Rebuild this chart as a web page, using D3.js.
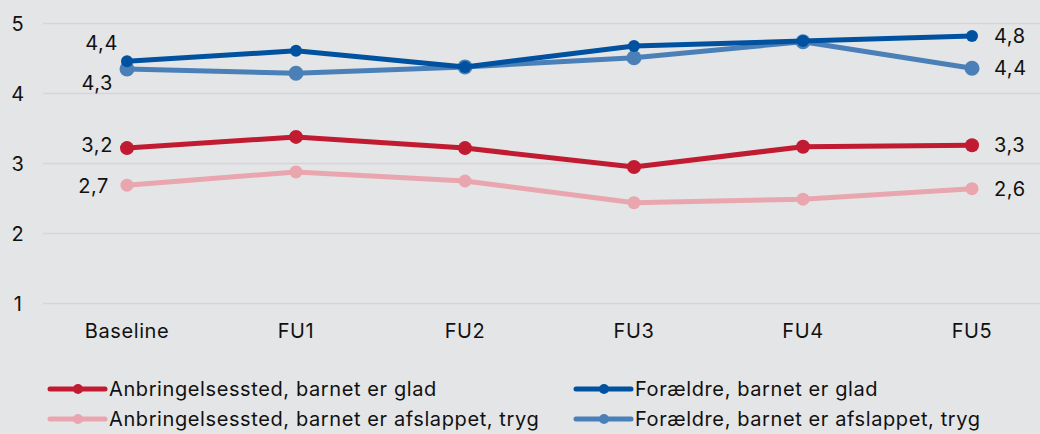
<!DOCTYPE html>
<html>
<head>
<meta charset="utf-8">
<script src="https://cdn.jsdelivr.net/npm/d3@7"></script>
<style>
  body { margin: 0; background: #e4e5e7; }
  svg { display: block; font-family: Inter, "Noto Sans", sans-serif; letter-spacing: 0.6px; }
</style>
</head>
<body>
<svg id="chart"></svg>
<script>
// categories + series
const periods = ['Baseline', 'FU1', 'FU2', 'FU3', 'FU4', 'FU5'];
const yTicks = [1, 2, 3, 4, 5];

const anbGlad = [3.22, 3.38, 3.22, 2.95, 3.24, 3.26];
const anbTryg = [2.69, 2.88, 2.75, 2.44, 2.49, 2.64];
const forGlad = [4.46, 4.61, 4.38, 4.68, 4.75, 4.82];
const forTryg = [4.35, 4.29, 4.38, 4.51, 4.74, 4.36];

const seriesNames = [
  'Anbringelsessted, barnet er glad',
  'Anbringelsessted, barnet er afslappet, tryg',
  'Forældre, barnet er glad',
  'Forældre, barnet er afslappet, tryg'
];

const startLabels = ['3,2', '2,7', '4,4', '4,3'];
const endLabels = ['3,3', '2,6', '4,8', '4,4'];

const series = [
  { name: seriesNames[0], values: anbGlad, color: '#c11b32', r: 7, start: startLabels[0], end: endLabels[0], dxStart: -14, dyStart: -3 },
  { name: seriesNames[1], values: anbTryg, color: '#e9a6ae', r: 6.5, start: startLabels[1], end: endLabels[1], dxStart: -18, dyStart: 1 },
  { name: seriesNames[2], values: forGlad, color: '#0051a0', r: 6, start: startLabels[2], end: endLabels[2], dxStart: -9, dyStart: -18 },
  { name: seriesNames[3], values: forTryg, color: '#4a80b7', r: 7.5, start: startLabels[3], end: endLabels[3], dxStart: -14, dyStart: 14 }
];

const width = 1040, height = 434;
const margin = { top: 23.5, right: 0, bottom: 130.5, left: 43 };
const fs = 20;

const svg = d3.select('#chart').attr('width', width).attr('height', height);

const x = d3.scalePoint()
  .domain(periods)
  .range([127, 972]);

const y = d3.scaleLinear()
  .domain([1, 5])
  .range([height - margin.bottom, margin.top]);

// gridlines
svg.append('g')
  .selectAll('line')
  .data(yTicks)
  .join('line')
  .attr('x1', margin.left)
  .attr('x2', width)
  .attr('y1', d => y(d))
  .attr('y2', d => y(d))
  .attr('stroke', '#d5d6d7')
  .attr('stroke-width', 1.5);

// y labels
svg.append('g')
  .selectAll('text')
  .data(yTicks)
  .join('text')
  .attr('x', 18)
  .attr('y', d => y(d))
  .attr('dy', '0.35em')
  .attr('text-anchor', 'middle')
  .attr('font-size', fs)
  .attr('fill', '#111')
  .text(d => d);

// x labels
svg.append('g')
  .selectAll('text')
  .data(periods)
  .join('text')
  .attr('x', d => x(d))
  .attr('y', 331)
  .attr('dy', '0.35em')
  .attr('text-anchor', 'middle')
  .attr('font-size', fs)
  .attr('fill', '#111')
  .text(d => d);

const line = d3.line()
  .x((d, i) => x(periods[i]))
  .y(d => y(d));

// draw order: lighter series first, then darker on top
const drawOrder = [series[1], series[0], series[3], series[2]];

drawOrder.forEach(s => {
  const g = svg.append('g');
  g.append('path')
    .datum(s.values)
    .attr('d', line)
    .attr('fill', 'none')
    .attr('stroke', s.color)
    .attr('stroke-width', 5)
    .attr('stroke-linejoin', 'round');
  g.selectAll('circle')
    .data(s.values)
    .join('circle')
    .attr('cx', (d, i) => x(periods[i]))
    .attr('cy', d => y(d))
    .attr('r', s.r)
    .attr('fill', s.color);
});

// value labels at start and end
series.forEach(s => {
  svg.append('text')
    .attr('x', x(periods[0]) + s.dxStart)
    .attr('y', y(s.values[0]) + s.dyStart)
    .attr('dy', '0.35em')
    .attr('text-anchor', 'end')
    .attr('font-size', fs)
    .attr('fill', '#111')
    .text(s.start);
  svg.append('text')
    .attr('x', x(periods[periods.length - 1]) + 22)
    .attr('y', y(s.values[s.values.length - 1]))
    .attr('dy', '0.35em')
    .attr('text-anchor', 'start')
    .attr('font-size', fs)
    .attr('fill', '#111')
    .text(s.end);
});

// legend
const legendPos = [
  { x: 50, y: 389 },
  { x: 50, y: 419 },
  { x: 576, y: 389 },
  { x: 576, y: 419 }
];

series.forEach((s, i) => {
  const p = legendPos[i];
  const g = svg.append('g').attr('transform', `translate(${p.x},${p.y})`);
  g.append('line')
    .attr('x1', 0).attr('x2', 55)
    .attr('stroke', s.color)
    .attr('stroke-width', 5)
    .attr('stroke-linecap', 'round');
  g.append('circle')
    .attr('cx', 28)
    .attr('r', 5)
    .attr('fill', s.color);
  g.append('text')
    .attr('x', 59)
    .attr('dy', '0.35em')
    .attr('font-size', fs)
    .attr('fill', '#111')
    .text(s.name);
});
</script>
</body>
</html>
